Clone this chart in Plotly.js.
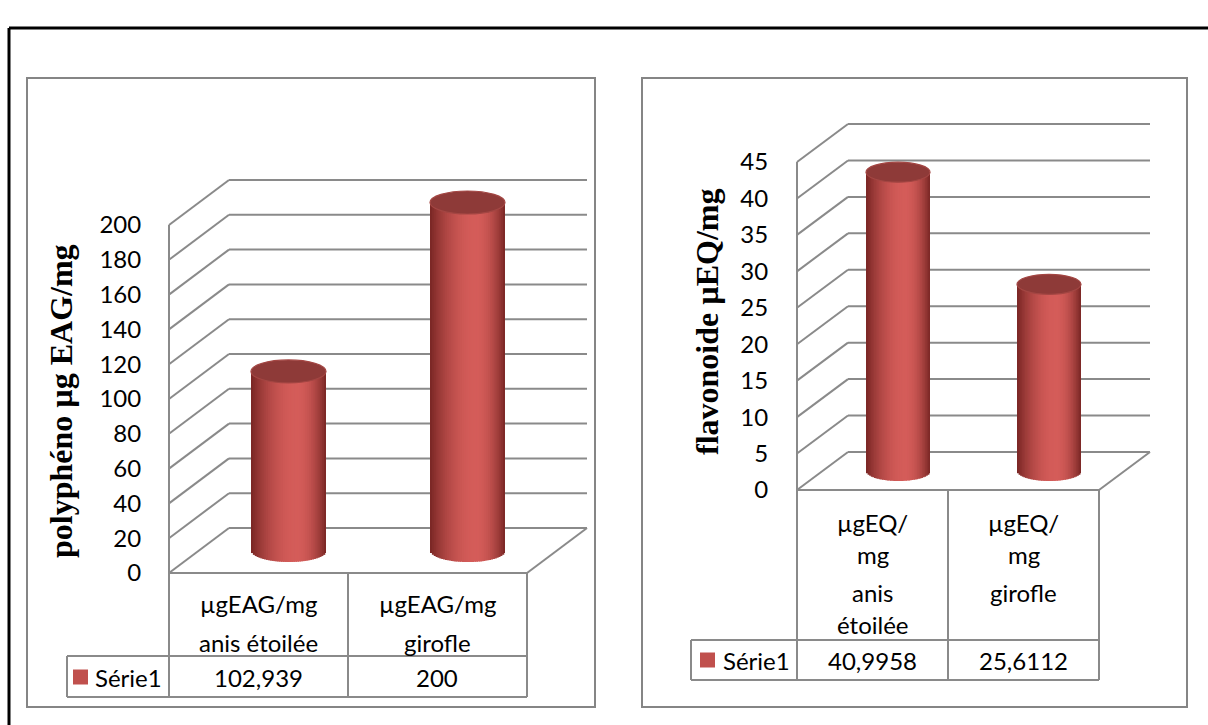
<!DOCTYPE html>
<html><head><meta charset="utf-8">
<script src="https://cdn.plot.ly/plotly-3.0.1.min.js"></script>
<style>html,body{margin:0;padding:0;background:#fff}#chart{width:1208px;height:725px}</style>
</head><body><div id="chart"></div>
<script>
// ---------------- data ----------------
const seriesName = "Série1";

const leftUnits  = ["µgEAG/mg", "µgEAG/mg"];
const leftPlants = ["anis étoilée", "girofle"];
const leftValues = [102.939, 200];
const leftTicks  = [0, 20, 40, 60, 80, 100, 120, 140, 160, 180, 200];
const leftTitle  = "polyphéno µg EAG/mg";

const rightUnits  = ["µgEQ/<br>mg", "µgEQ/<br>mg"];
const rightPlants = ["anis<br>étoilée", "girofle"];
const rightValues = [40.9958, 25.6112];
const rightTicks  = [0, 5, 10, 15, 20, 25, 30, 35, 40, 45];
const rightTitle  = "flavonoide µEQ/mg";

// ---------------- geometry / style ----------------
const W = 1208, H = 725;
const FONT = "Lato, 'Open Sans', sans-serif";
const FS = 24;
const LINE = "#8a8a8a";
const cfgL = {x0:169, y0:573, catW:179, ppu:1.74, dx:60, dy:45, top:166, right:593, cylW:75, ellH:11.5,
  frame:[27,78,595,707], legendX:67, headBottom:656, rowBottom:697, unitY:603, plantY:642, lh:30,
  valueY:677, titleX:61, titleY:401, tickLen:16, keyX:73, keyW:15, keyTextX:93};
const cfgR = {x0:797, y0:490, catW:151, ppu:7.289, dx:51, dy:38, top:110, right:1184, cylW:64, ellH:10,
  frame:[642,78,1187,707], legendX:691, headBottom:640, rowBottom:680, unitY:522, plantY:592, lh:32,
  valueY:660, titleX:707, titleY:322, tickLen:17, keyX:700, keyW:15, keyTextX:721};

const px = p => p / W;
const py = p => 1 - p / H;

const traces = [], shapes = [], annotations = [];
const layout = {
  width: W, height: H, autosize: false,
  margin: {l:0, r:0, t:0, b:0, pad:0},
  paper_bgcolor: "#ffffff", plot_bgcolor: "rgba(0,0,0,0)",
  showlegend: false, barmode: "overlay",
  font: {family: FONT, size: FS, color: "#000"}
};

function mix(a, b, f) {
  return "rgb(" + a.map((v, i) => Math.round(v + (b[i] - v) * f)).join(",") + ")";
}
const DARK = [120, 38, 36], BRIGHT = [212, 92, 89];

function build(cfg, vals, ticks, units, plants, title, sfx) {
  const xa = "x" + sfx, ya = "y" + sfx;
  const n = vals.length, pad = 6;
  const domL = cfg.x0 - pad, domB = cfg.y0 + pad;
  layout["xaxis" + sfx] = {
    domain: [px(domL), px(cfg.right)],
    range: [-0.5 - pad / cfg.catW, -0.5 + (cfg.right - cfg.x0) / cfg.catW],
    visible: false, fixedrange: true, anchor: ya
  };
  layout["yaxis" + sfx] = {
    domain: [py(domB), py(cfg.top)],
    range: [-pad / cfg.ppu, (cfg.y0 - cfg.top) / cfg.ppu],
    anchor: xa, showgrid: false, zeroline: false, showline: false,
    tickmode: "array", tickvals: ticks, ticktext: ticks.map(String),
    ticks: "outside", ticklen: cfg.tickLen, tickcolor: "rgba(0,0,0,0)",
    tickfont: {family: FONT, size: FS, color: "#000"}, fixedrange: true
  };
  const dxU = cfg.dx / cfg.catW, dyU = cfg.dy / cfg.ppu;
  const gl = (x0, y0, x1, y1) => shapes.push({type:"line", xref:xa, yref:ya, x0, y0, x1, y1,
    layer:"below", line:{color:LINE, width:2}});
  const tmax = Math.max(...ticks);
  ticks.forEach(t => {
    gl(-0.5, t, -0.5 + dxU, t + dyU);
    gl(-0.5 + dxU, t + dyU, n - 0.5 + dxU, t + dyU);
  });
  gl(-0.5, 0, -0.5, tmax);
  gl(-0.5, 0, n - 0.5, 0);
  gl(n - 0.5, 0, n - 0.5 + dxU, dyU);

  // cylinders
  const a = cfg.cylW / 2 / cfg.catW, b = cfg.ellH / cfg.ppu;
  const cx = vals.map((v, i) => i + dxU / 2);
  const cBot = dyU / 2;
  const cTop = vals.map(v => v + dyU / 2);
  const N = 40, uh = 0.22;
  for (let k = 0; k < N; k++) {
    const uL = -1 + 2 * k / N, uR = -1 + 2 * (k + 1) / N, uc = (uL + uR) / 2;
    const t = uc < uh ? (uh - uc) / (1 + uh) : (uc - uh) / (1 - uh);
    const f = 1 - Math.pow(Math.min(1, t), 2.0);
    const color = mix(DARK, BRIGHT, f);
    const step = 2 * a / N;
    const wdt = k < N - 1 ? step * 1.6 : step;
    const off = uL * a;
    const wEff = Math.min(wdt, a - off);
    const base = cBot - b * Math.sqrt(Math.max(0, 1 - uc * uc));
    traces.push({
      type: "bar", xaxis: xa, yaxis: ya, x: cx,
      y: cTop.map(ct => ct - base), base: vals.map(() => base),
      offset: off, width: wEff,
      marker: {color: color, line: {width: 0}},
      hoverinfo: "skip", showlegend: false
    });
  }
  vals.forEach((v, i) => {
    shapes.push({type:"circle", xref:xa, yref:ya, layer:"above",
      x0: cx[i] - a, x1: cx[i] + a, y0: cTop[i] - b, y1: cTop[i] + b,
      fillcolor: "#8e3a38", line: {color: "#a34643", width: 1.2}});
  });

  // frame
  const [fx0, fy0, fx1, fy1] = cfg.frame;
  shapes.push({type:"rect", xref:"paper", yref:"paper", x0:px(fx0), y0:py(fy0), x1:px(fx1), y1:py(fy1),
    line:{color:"#858585", width:2}, layer:"below"});

  // data table
  const pl = (x0, y0, x1, y1) => shapes.push({type:"line", xref:"paper", yref:"paper",
    x0:px(x0), y0:py(y0), x1:px(x1), y1:py(y1), line:{color:LINE, width:2}});
  const xEnd = cfg.x0 + n * cfg.catW;
  for (let i = 0; i <= n; i++) pl(cfg.x0 + i * cfg.catW, cfg.y0, cfg.x0 + i * cfg.catW, cfg.rowBottom);
  pl(cfg.legendX, cfg.headBottom, xEnd, cfg.headBottom);
  pl(cfg.legendX, cfg.rowBottom, xEnd, cfg.rowBottom);
  pl(cfg.legendX, cfg.headBottom, cfg.legendX, cfg.rowBottom);
  const ann = (x, y, text, opts) => annotations.push(Object.assign({xref:"paper", yref:"paper",
    x:px(x), y:py(y), text, showarrow:false, xanchor:"center", yanchor:"middle",
    font:{family:FONT, size:FS, color:"#000"}}, opts || {}));
  vals.forEach((v, i) => {
    const colC = cfg.x0 + (i + 0.5) * cfg.catW;
    units[i].split("<br>").forEach((s, j) => ann(colC, cfg.unitY + j * cfg.lh, s));
    plants[i].split("<br>").forEach((s, j) => ann(colC, cfg.plantY + j * cfg.lh, s));
    ann(colC, cfg.valueY, String(v).replace(".", ","));
  });
  const keyY = cfg.valueY;
  shapes.push({type:"rect", xref:"paper", yref:"paper", x0:px(cfg.keyX), x1:px(cfg.keyX + cfg.keyW),
    y0:py(keyY - cfg.keyW / 2), y1:py(keyY + cfg.keyW / 2), fillcolor:"#c0504d", line:{width:0}});
  ann(cfg.keyTextX, keyY, seriesName, {xanchor:"left"});

  // axis title
  ann(cfg.titleX, cfg.titleY, "<b>" + title + "</b>",
    {textangle:-90, font:{family:"'Liberation Serif', 'Times New Roman', serif", size:32, color:"#000"}});
}

build(cfgL, leftValues, leftTicks, leftUnits, leftPlants, leftTitle, "");
build(cfgR, rightValues, rightTicks, rightUnits, rightPlants, rightTitle, "2");

// outer black border
shapes.push({type:"line", xref:"paper", yref:"paper", x0:px(9), y0:py(28), x1:px(1215), y1:py(28), line:{color:"#000", width:3}});
shapes.push({type:"line", xref:"paper", yref:"paper", x0:px(9), y0:py(28), x1:px(9), y1:py(735), line:{color:"#000", width:3}});

layout.shapes = shapes;
layout.annotations = annotations;
Plotly.newPlot("chart", traces, layout, {staticPlot:true, displayModeBar:false});
</script>
</body></html>
